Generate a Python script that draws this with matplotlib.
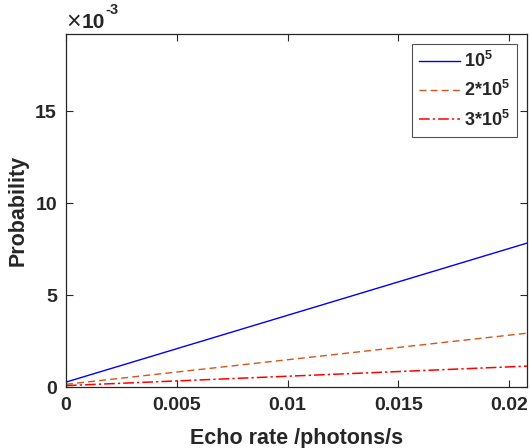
import numpy as np
import matplotlib as mpl
from matplotlib import pyplot as plt
from matplotlib.ticker import FuncFormatter

# echo rate (photons/s) and probability for three background levels
echo_rate = [0.0, 0.0208]
prob_1e5 = [0.27e-3, 7.83e-3]
prob_2e5 = [0.15e-3, 2.93e-3]
prob_3e5 = [0.08e-3, 1.14e-3]
labels = ['10$^{\\mathbf{5}}$', '2*10$^{\\mathbf{5}}$', '3*10$^{\\mathbf{5}}$']

txt = '#262626'
plt.rcParams['font.family'] = ['Liberation Sans', 'DejaVu Sans']
plt.rcParams['font.weight'] = 'bold'
plt.rcParams['mathtext.fontset'] = 'custom'
plt.rcParams['mathtext.rm'] = 'Liberation Sans:bold'
plt.rcParams['mathtext.bf'] = 'Liberation Sans:bold'
plt.rcParams['text.color'] = txt

W, H = 530, 448
fig = plt.figure(figsize=(W / 100, H / 100), dpi=100)
ax = fig.add_axes([0.1245, 0.136, 0.8698, 0.788])

ax.plot(echo_rate, prob_1e5, color='#0000ff', lw=1.0, label=labels[0])
ax.plot(echo_rate, prob_2e5, color='#d95319', lw=1.0, ls=(0, (5, 3)), label=labels[1])
ax.plot(echo_rate, prob_3e5, color='#ff0000', lw=1.1, ls=(0, (7, 2, 1.5, 2)), label=labels[2])

ax.set_xlim(0, 0.0208)
ax.set_ylim(0, 0.0192)
ax.set_xticks([0, 0.005, 0.01, 0.015, 0.02])
ax.set_xticklabels(['0', '0.005', '0.01', '0.015', '0.02'])
ax.set_yticks([0, 0.005, 0.01, 0.015])
ax.yaxis.set_major_formatter(FuncFormatter(lambda v, p: '%g' % round(v * 1e3, 6)))
ax.tick_params(direction='in', top=True, right=True, labelsize=14, length=5, width=0.8,
               colors=txt, labelcolor=txt)
ax.tick_params(axis='x', pad=7.5)
ax.tick_params(axis='y', pad=6.5)
for s in ax.spines.values():
    s.set_linewidth(0.9)
    s.set_color(txt)

ax.set_xlabel('Echo rate /photons/s', fontsize=15.5, fontweight='bold', color=txt)
ax.set_ylabel('Probability', fontsize=15.5, fontweight='bold', color=txt)
ax.xaxis.set_label_coords(0.5, -0.116)
ax.yaxis.set_label_coords(-0.08, 0.5)

# exponent label, MATLAB style: thin "x", bold 10, hyphen superscript
fig.text(66 / W, 1 - 29 / H, '\u00d7', fontsize=18, fontweight='normal', ha='left', va='baseline')
fig.text(82 / W, 1 - 28.5 / H, '10', fontsize=15, fontweight='bold', ha='left', va='baseline')
fig.text(105 / W, 1 - 14 / H, '-3', fontsize=10.5, fontweight='bold', ha='left', va='baseline')

leg = ax.legend(loc='upper right', fontsize=13, frameon=True, fancybox=False,
                edgecolor=txt, handlelength=2.3, handletextpad=0.2,
                borderaxespad=0.55, labelspacing=0.5, borderpad=0.4)
leg.get_frame().set_linewidth(0.8)

fig.savefig('out.png', dpi=100)
